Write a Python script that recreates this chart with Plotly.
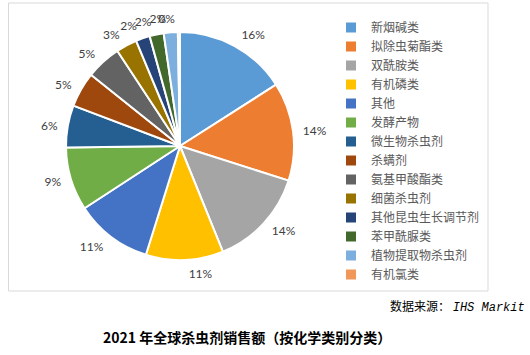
import plotly.graph_objects as go

categories = ["新烟碱类", "拟除虫菊酯类", "双酰胺类", "有机磷类", "其他", "发酵产物",
              "微生物杀虫剂", "杀螨剂", "氨基甲酸酯类", "细菌杀虫剂", "其他昆虫生长调节剂",
              "苯甲酰脲类", "植物提取物杀虫剂", "有机氯类"]
values = [16, 14, 14, 11, 11, 9, 6, 5, 5, 3, 2, 2, 2, 0.3]
pct_labels = ["16%", "14%", "14%", "11%", "11%", "9%", "6%", "5%", "5%", "3%", "2%",
              "2%", "2%", "0%"]
colors = ["#5B9BD5", "#ED7D31", "#A5A5A5", "#FFC000", "#4472C4", "#70AD47", "#255E91",
          "#9E480E", "#636363", "#997300", "#264478", "#43682B", "#7CAFDD", "#F1975A"]

W, H = 530, 355
cx, cy, r = 180, 146, 114
rl = 120  # radius of the ring the percent labels sit on

fig = go.Figure()
fig.add_trace(go.Pie(
    labels=categories, values=values, sort=False, direction="clockwise", rotation=0,
    marker=dict(colors=colors, line=dict(color="white", width=2)),
    textinfo="none", hoverinfo="label+percent",
    domain=dict(x=[(cx - r) / W, (cx + r) / W], y=[(H - cy - r) / H, (H - cy + r) / H]),
    showlegend=True,
))
# transparent label rings: one per slice so that labels are not pushed apart
for i in range(len(values)):
    fig.add_trace(go.Pie(
        labels=categories, values=values, sort=False, direction="clockwise", rotation=0,
        marker=dict(colors=["rgba(0,0,0,0)"] * len(values), line=dict(width=0)),
        text=pct_labels, textinfo="text",
        textposition=["outside" if j == i else "none" for j in range(len(values))],
        outsidetextfont=dict(family="Liberation Sans Narrow, Lato, sans-serif", size=12,
                             color="#404040"),
        hoverinfo="skip", showlegend=False,
        domain=dict(x=[(cx - rl) / W, (cx + rl) / W], y=[(H - cy - rl) / H, (H - cy + rl) / H]),
    ))

fig.update_layout(
    width=W, height=H, margin=dict(l=0, r=0, t=0, b=0, autoexpand=False),
    paper_bgcolor="white", plot_bgcolor="white",
    legend=dict(x=331 / W, y=(H - 13) / H, xanchor="left", yanchor="top",
                font=dict(family="Noto Sans CJK SC", size=12, color="#595959"),
                traceorder="normal", bgcolor="rgba(0,0,0,0)"),
    shapes=[dict(type="rect", xref="paper", yref="paper",
                 x0=8.5 / W, x1=488 / W, y0=(H - 291) / H, y1=(H - 3) / H,
                 line=dict(color="#D9D9D9", width=1), layer="below")],
    annotations=[
        dict(text="数据来源： <i><span style='font-family:Liberation Mono'>IHS Markit</span></i>",
             x=527 / W, y=(H - 306) / H, xref="paper", yref="paper",
             xanchor="right", yanchor="middle", showarrow=False,
             font=dict(family="Noto Sans CJK SC", size=12, color="#000000")),
        dict(text="<b>2021 年全球杀虫剂销售额（按化学类别分类）</b>",
             x=247 / W, y=(H - 337) / H, xref="paper", yref="paper",
             xanchor="center", yanchor="middle", showarrow=False,
             font=dict(family="Noto Sans CJK SC", size=14, color="#000000")),
    ],
)
fig.write_html("out.html", config={"displayModeBar": False},
               post_script="document.body.style.margin='0';document.body.style.overflow='hidden';")
